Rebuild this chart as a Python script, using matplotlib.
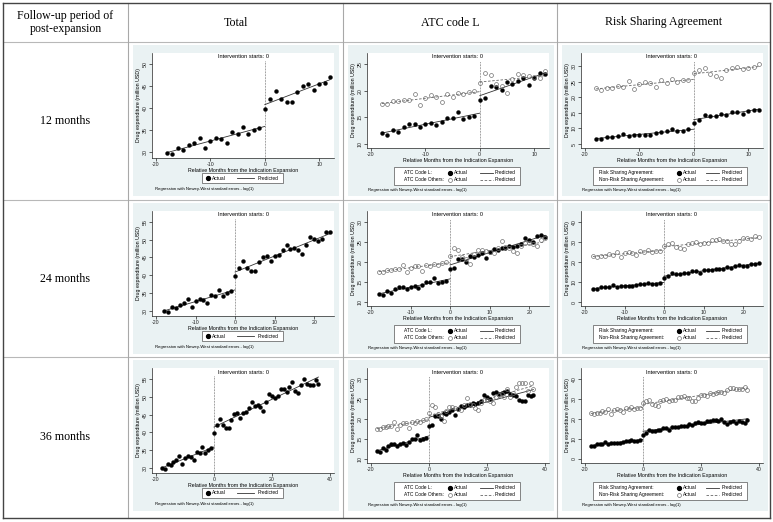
import numpy as np
import matplotlib
matplotlib.use("Agg")
import matplotlib.pyplot as plt
from matplotlib.lines import Line2D
from matplotlib.patches import Rectangle

plt.rcParams['axes.unicode_minus'] = False
W, H = 773, 522

# ---------------- data ----------------
months = np.arange(-18, 37)
total = np.array([29.8, 29.6, 30.9, 30.6, 31.6, 32.2, 33.2, 30.9, 32.6, 33.2, 32.9, 32.2, 34.5, 34.1, 35.8, 34.2, 35.1, 35.5,
                  39.9, 42.1, 43.9, 42.0, 41.3, 41.3, 43.6, 45.1, 45.5, 44.0, 45.5, 45.8, 47.0,
                  48.5, 47.4, 47.7, 47.2, 46.0, 48.5, 50.9, 50.3, 49.7, 50.2, 52.2, 52.2,
                  51.5, 52.9, 54.3, 51.7, 51.1, 53.4, 55.1, 53.8, 53.5, 53.5, 54.9, 53.6])
atc_l = np.array([12.0, 11.7, 12.7, 12.2, 13.2, 13.7, 13.7, 13.2, 13.7, 13.9, 13.6, 14.2, 14.9, 14.9, 16.0, 14.7, 15.1, 15.2,
                  18.3, 18.6, 20.8, 20.7, 20.1, 21.6, 21.3, 21.8, 22.3, 21.1, 22.4, 23.3, 23.1,
                  23.5, 23.4, 23.9, 23.7, 23.9, 24.6, 25.9, 25.4, 25.0, 26.5, 26.8, 26.3,
                  26.5, 26.7, 27.1, 26.3, 25.9, 25.7, 24.7, 24.6, 24.4, 26.1, 25.7, 26.1])
atc_other = np.array([17.5, 17.5, 18.0, 18.0, 18.2, 18.3, 19.3, 17.4, 18.6, 19.1, 18.9, 17.8, 19.3, 18.9, 19.6, 19.3, 19.8, 19.9,
                      21.5, 23.4, 22.9, 21.3, 20.8, 19.5, 22.1, 23.1, 22.9, 22.7, 22.6, 22.3, 23.6,
                      25.2, 23.8, 23.6, 22.8, 22.2, 23.9, 24.8, 24.8, 24.5, 24.1, 25.4, 26.0,
                      26.3, 25.5, 27.6, 25.5, 26.6, 27.9, 28.9, 28.9, 28.9, 26.9, 29.0, 27.6])
rsa = np.array([6.6, 6.6, 7.4, 7.3, 7.5, 8.3, 7.7, 7.8, 8.0, 8.0, 7.9, 8.5, 8.8, 9.1, 9.7, 9.1, 9.2, 9.7,
                11.8, 12.9, 14.3, 14.1, 14.0, 14.6, 14.5, 15.3, 15.3, 14.6, 15.8, 16.0, 16.0,
                16.7, 16.7, 16.6, 17.5, 16.9, 17.9, 18.7, 17.9, 18.0, 19.1, 19.1, 19.6,
                19.3, 19.2, 19.8, 18.7, 17.4, 18.3, 19.0, 18.0, 18.9, 18.7, 18.1, 19.4])
non_rsa = np.array([22.9, 22.5, 23.1, 22.9, 23.8, 23.5, 25.2, 22.7, 24.3, 24.9, 24.7, 23.4, 25.5, 24.8, 25.9, 24.9, 25.5, 25.5,
                    27.9, 29.0, 29.4, 27.5, 26.9, 26.3, 28.9, 29.5, 29.9, 29.2, 29.5, 29.7, 30.8,
                    31.1, 31.4, 30.3, 30.5, 29.2, 29.2, 30.6, 32.1, 31.9, 31.6, 33.0, 32.7,
                    33.2, 33.5, 33.5, 33.1, 34.6, 35.6, 35.6, 35.1, 34.8, 35.1, 36.2, 34.3])

followups = [12, 24, 36]
row_labels = ["12 months", "24 months", "36 months"]
col_titles = ["Total", "ATC code L", "Risk Sharing Agreement"]
header_first = "Follow-up period of\npost-expansion"
series_labels = [None, ["ATC Code L:", "ATC Code Others:"],
                 ["Risk Sharing Agreement:", "Non-Risk Sharing Agreement:"]]
yticks = {
    (0, 12): [30, 35, 40, 45, 50], (0, 24): [30, 35, 40, 45, 50, 55], (0, 36): [30, 35, 40, 45, 50, 55],
    (1, 12): [10, 15, 20, 25], (1, 24): [10, 15, 20, 25, 30], (1, 36): [10, 15, 20, 25, 30],
    (2, 12): [5, 10, 15, 20, 25, 30], (2, 24): [0, 10, 20, 30, 40], (2, 36): [0, 10, 20, 30, 40],
}
xticks = {12: [-20, -10, 0, 10], 24: [-20, -10, 0, 10, 20], 36: [-20, 0, 20, 40]}
title_txt = "Intervention starts: 0"
xlab_txt = "Relative Months from the Indication Expansion"
ylab_txt = "Drug expenditure (million USD)"
note_txt = "Regression with Newey-West standard errors - lag(1)"

# ---------------- layout helpers ----------------
fig = plt.figure(figsize=(W / 100, H / 100), dpi=100)
fig.patch.set_facecolor("white")

def fx(x):
    return x / W

def fy(y):
    return 1 - y / H

SANS = "Liberation Sans"
SERIF = "Liberation Serif"
BG = "#eaf2f3"

col_edges = [3, 128, 343, 557, 770]
row_edges = [3, 42, 200, 357, 518]

def hline(y, x1, x2, color, lw):
    fig.add_artist(Line2D([fx(x1), fx(x2)], [fy(y), fy(y)], transform=fig.transFigure, color=color, lw=lw, zorder=10))

def vline(x, y1, y2, color, lw):
    fig.add_artist(Line2D([fx(x), fx(x)], [fy(y1), fy(y2)], transform=fig.transFigure, color=color, lw=lw, zorder=10))

# table grid
for y in row_edges[1:-1]:
    hline(y, col_edges[0], col_edges[-1], "#b8b8b8", 0.8)
for x in col_edges[1:-1]:
    vline(x, row_edges[0], row_edges[-1], "#a8a8a8", 0.8)
hline(row_edges[0], col_edges[0], col_edges[-1], "#444444", 1.0)
hline(row_edges[-1], col_edges[0], col_edges[-1], "#444444", 1.0)
vline(col_edges[0], row_edges[0], row_edges[-1], "#444444", 1.0)
vline(col_edges[-1], row_edges[0], row_edges[-1], "#444444", 1.0)

# header texts
hy = (row_edges[0] + row_edges[1]) / 2
fig.text(fx((col_edges[0] + col_edges[1]) / 2), fy(hy), header_first, ha="center", va="center",
         fontsize=8.6, family=SERIF, linespacing=1.15)
for c, t in enumerate(col_titles):
    fig.text(fx((col_edges[c + 1] + col_edges[c + 2]) / 2), fy(hy), t, ha="center", va="center",
             fontsize=8.6, family=SERIF)
for r, t in enumerate(row_labels):
    fig.text(fx((col_edges[0] + col_edges[1]) / 2), fy((row_edges[r + 1] + row_edges[r + 2]) / 2), t,
             ha="center", va="center", fontsize=8.6, family=SERIF)

FS = 3.8

def seg_fit(t, y):
    pre = t < 0
    post = t >= 0
    p1 = np.polyfit(t[pre], y[pre], 1)
    p2 = np.polyfit(t[post], y[post], 1)
    xa = np.array([t[pre][0], 0.0])
    xb = np.array([0.0, t[post][-1]])
    return xa, np.polyval(p1, xa), xb, np.polyval(p2, xb)

def legend_marker(x, y, filled):
    if filled:
        fig.add_artist(Line2D([fx(x)], [fy(y)], transform=fig.transFigure, marker="o", ms=2.8,
                              mfc="black", mec="black", ls="none", zorder=12))
    else:
        fig.add_artist(Line2D([fx(x)], [fy(y)], transform=fig.transFigure, marker="o", ms=2.8,
                              mfc="none", mec="#707070", mew=0.5, ls="none", zorder=12))

def legend_line(x1, x2, y, dashed):
    fig.add_artist(Line2D([fx(x1), fx(x2)], [fy(y), fy(y)], transform=fig.transFigure,
                          color="#333333" if not dashed else "#666666", lw=0.6,
                          ls=(0, (3, 2)) if dashed else "-", zorder=12))

def draw_panel(r, c):
    F = followups[r]
    x0 = col_edges[c + 1]
    y0 = row_edges[r + 1]
    # graph region background
    fig.add_artist(Rectangle((fx(x0 + 5), fy(y0 + 154)), (206) / W, (151) / H, transform=fig.transFigure,
                             facecolor=BG, edgecolor="none", zorder=0))
    ax_l, ax_r = x0 + 24, x0 + 206
    ax_t = y0 + 11
    ax_b = y0 + 116 if c == 0 else y0 + 106
    ax = fig.add_axes([fx(ax_l), fy(ax_b), (ax_r - ax_l) / W, (ax_b - ax_t) / H])
    ax.set_facecolor("white")
    wpx = ax_r - ax_l
    hpx = ax_b - ax_t

    mask = months <= F
    t = months[mask]
    if c == 0:
        groups = [(total[mask], True)]
    elif c == 1:
        groups = [(atc_l[mask], True), (atc_other[mask], False)]
    else:
        groups = [(rsa[mask], True), (non_rsa[mask], False)]

    for y, filled in groups:
        xa, ya, xb, yb = seg_fit(t, y)
        style = "-" if filled else (0, (3, 2))
        col = "#333333" if filled else "#666666"
        ax.plot(xa, ya, ls=style, color=col, lw=0.6, zorder=2)
        ax.plot(xb, yb, ls=style, color=col, lw=0.6, zorder=2)
        if filled:
            ax.plot(t, y, "o", ms=2.8, mfc="black", mec="black", mew=0.3, zorder=3)
        else:
            ax.plot(t, y, "o", ms=2.8, mfc="none", mec="#707070", mew=0.5, zorder=3)

    yt = yticks[(c, F)]
    xt = xticks[F]
    allv = np.concatenate([g[0] for g in groups])
    ylo = min(allv.min(), yt[0])
    yhi = max(allv.max(), yt[-1])
    uy = (yhi - ylo) / (hpx - 4 - 11)
    ax.set_ylim(ylo - 4 * uy, yhi + 11 * uy)
    xlo = min(t[0], xt[0])
    xhi = max(t[-1], xt[-1])
    ux = (xhi - xlo) / (wpx - 8)
    ax.set_xlim(xlo - 4 * ux, xhi + 4 * ux)
    ax.set_yticks(yt)
    ax.set_xticks(xt)
    ax.axvline(0, ymin=0, ymax=1 - 8 / hpx, color="#444444", lw=0.5, ls=(0, (1, 1.2)), zorder=1)

    for s in ["top", "right"]:
        ax.spines[s].set_visible(False)
    for s in ["left", "bottom"]:
        ax.spines[s].set_linewidth(0.5)
        ax.spines[s].set_color("#222222")
    ax.tick_params(axis="both", direction="out", length=2, width=0.5, pad=1, labelsize=FS, colors="#222222")
    for lab in ax.get_yticklabels():
        lab.set_rotation(90)
        lab.set_va("center")
        lab.set_family(SANS)
    for lab in ax.get_xticklabels():
        lab.set_family(SANS)
    ax.set_ylabel(ylab_txt, fontsize=FS, family=SANS, labelpad=1.5)
    ax.set_xlabel(xlab_txt, fontsize=FS, family=SANS, labelpad=0.5)
    ax.text(0.5, 1 - 4 / hpx, title_txt, transform=ax.transAxes, ha="center", va="center",
            fontsize=4.1, family=SANS)

    # legend
    if c == 0:
        bx1, bx2, by1, by2 = x0 + 74, x0 + 155, y0 + 131, y0 + 141
        fig.add_artist(Rectangle((fx(bx1), fy(by2)), (bx2 - bx1) / W, (by2 - by1) / H, transform=fig.transFigure,
                                 facecolor="white", edgecolor="#555555", lw=0.5, zorder=11))
        ly = (by1 + by2) / 2
        legend_marker(x0 + 80, ly, True)
        fig.text(fx(x0 + 84), fy(ly), "Actual", ha="left", va="center", fontsize=3.5, family=SANS, zorder=12)
        legend_line(x0 + 109, x0 + 126, ly, False)
        fig.text(fx(x0 + 130), fy(ly), "Predicted", ha="left", va="center", fontsize=3.5, family=SANS, zorder=12)
        note_y = y0 + 147
        note_x = x0 + 27
    else:
        if c == 1:
            bx1, bx2 = x0 + 51, x0 + 177
            lab_x, dot_x, act_x, l1, l2, pred_x = x0 + 61, x0 + 107, x0 + 111, x0 + 137, x0 + 150, x0 + 152
        else:
            bx1, bx2 = x0 + 36, x0 + 190
            lab_x, dot_x, act_x, l1, l2, pred_x = x0 + 42, x0 + 122, x0 + 126, x0 + 149, x0 + 162, x0 + 165
        by1, by2 = y0 + 125, y0 + 143
        fig.add_artist(Rectangle((fx(bx1), fy(by2)), (bx2 - bx1) / W, (by2 - by1) / H, transform=fig.transFigure,
                                 facecolor="white", edgecolor="#555555", lw=0.5, zorder=11))
        for k, ly in enumerate([y0 + 130.5, y0 + 137.5]):
            fig.text(fx(lab_x), fy(ly), series_labels[c][k], ha="left", va="center", fontsize=3.5,
                     family=SANS, zorder=12)
            legend_marker(dot_x, ly, k == 0)
            fig.text(fx(act_x), fy(ly), "Actual", ha="left", va="center", fontsize=3.5, family=SANS, zorder=12)
            legend_line(l1, l2, ly, k == 1)
            fig.text(fx(pred_x), fy(ly), "Predicted", ha="left", va="center", fontsize=3.5, family=SANS, zorder=12)
        note_y = y0 + 148
        note_x = x0 + 25
    fig.text(fx(note_x), fy(note_y), note_txt, ha="left", va="center", fontsize=3.1, family=SANS, zorder=12)

for r in range(3):
    for c in range(3):
        draw_panel(r, c)

fig.savefig("out.png", dpi=100, facecolor="white")
